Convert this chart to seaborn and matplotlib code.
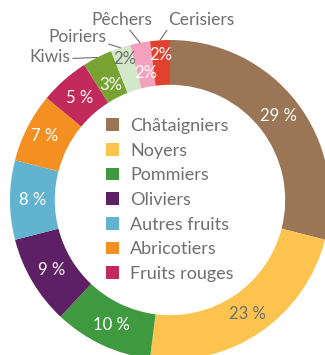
import matplotlib
matplotlib.use("Agg")
import matplotlib.pyplot as plt
import seaborn as sns
import numpy as np

# Orchard surface shares by species
categories = ["Châtaigniers", "Noyers", "Pommiers", "Oliviers", "Autres fruits",
              "Abricotiers", "Fruits rouges", "Kiwis", "Poiriers", "Pêchers", "Cerisiers"]
shares = [29, 23, 10, 9, 8, 7, 5, 3, 2, 2, 2]
share_labels = ["29 %", "23 %", "10 %", "9 %", "8 %", "7 %", "5 %", "3%", "2%", "2%", "2%"]
slice_colors = ["#9a7656", "#fdc34f", "#3f993f", "#5d2064", "#62b3d0",
                "#f39021", "#c12a5a", "#76a332", "#d3e7c9", "#f3a1bd", "#e2412f"]

GRAY = "#6f6f6f"
label_colors = ["white", GRAY, "white", "white", "white", "white", "white",
                "white", GRAY, "white", "white"]
label_radius = [0.86, 0.86, 0.86, 0.86, 0.86, 0.88, 0.85, 0.81, 0.925, 0.81, 0.91]

# species listed in the centre legend; the rest get outside callouts
n_legend = 7
callouts = {
    "Kiwis":     dict(xytext=(-0.625, 0.894), ha="right", relpos=(1.0, 0.4)),
    "Poiriers":  dict(xytext=(-0.40, 1.02), ha="right", relpos=(1.0, 0.1)),
    "Pêchers":   dict(xytext=(-0.30, 1.125), ha="center", relpos=(0.6, 0.0)),
    "Cerisiers": dict(xytext=(-0.01, 1.125), ha="left", relpos=(0.0, 0.0)),
}

sns.set_theme(style="white")
plt.rcParams["font.family"] = ["Lato", "DejaVu Sans"]

palette = sns.color_palette(slice_colors)

fig = plt.figure(figsize=(3.25, 3.55), dpi=100)
ax = fig.add_axes([10 / 325, -5 / 355, 320 / 325, 320 / 355])

wedges, _ = ax.pie(shares, colors=palette, startangle=90, counterclock=False,
                   radius=1.0, wedgeprops=dict(width=0.28, linewidth=0))
ax.set_xlim(-1, 1)
ax.set_ylim(-1, 1)
ax.set_aspect("equal")
ax.axis("off")

# value labels inside the ring
for w, txt, col, r in zip(wedges, share_labels, label_colors, label_radius):
    mid = np.deg2rad((w.theta1 + w.theta2) / 2)
    ax.text(r * np.cos(mid), r * np.sin(mid), txt, color=col, fontsize=12,
            ha="center", va="center")

# callouts for the small slices
for w, name in zip(wedges, categories):
    if name not in callouts:
        continue
    spec = callouts[name]
    mid = np.deg2rad((w.theta1 + w.theta2) / 2)
    ax.annotate(name, xy=(1.0 * np.cos(mid), 1.0 * np.sin(mid)),
                xytext=spec["xytext"], ha=spec["ha"], va="center",
                fontsize=12.5, color=GRAY, annotation_clip=False,
                arrowprops=dict(arrowstyle="-", color=GRAY, lw=0.8,
                                patchA=None, shrinkA=2, shrinkB=0,
                                relpos=spec["relpos"]))

leg = ax.legend(wedges[:n_legend], categories[:n_legend], loc="center",
                bbox_to_anchor=(0.5, 0.5), frameon=False, fontsize=13,
                labelcolor=GRAY, handlelength=0.68, handleheight=0.68,
                handletextpad=0.65, labelspacing=0.48, borderpad=0)

fig.savefig("out.png", dpi=100)
